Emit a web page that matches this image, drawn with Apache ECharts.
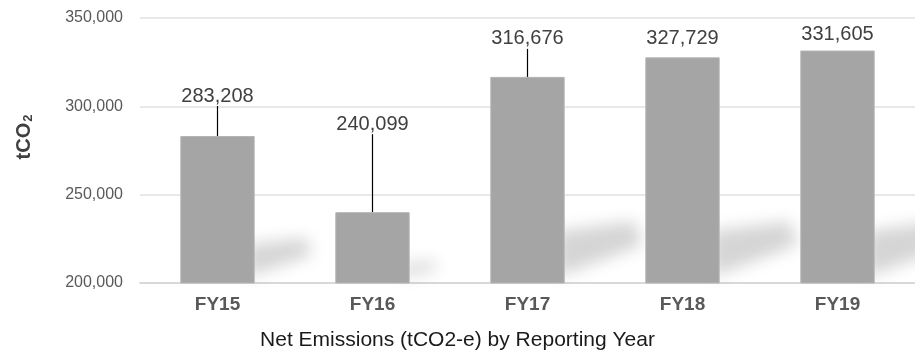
<!DOCTYPE html>
<html>
<head>
<meta charset="utf-8">
<script src="https://cdn.jsdelivr.net/npm/echarts@6/dist/echarts.min.js"></script>
<style>
  html, body { margin: 0; padding: 0; background: #fff; }
  #chart { width: 915px; height: 356px; }
</style>
</head>
<body>
<div id="chart"></div>
<script>
// data
const years = ['FY15', 'FY16', 'FY17', 'FY18', 'FY19'];
const netEmissions = [283208, 240099, 316676, 327729, 331605];
const yTicks = [200000, 250000, 300000, 350000];

// how far each value label is lifted above its bar (px), and which get a leader line
const labelDy = [-25, -73, -23, -4, -1];
const showLeader = [true, true, true, false, false];

const FONT = '"Liberation Sans", Arial, Helvetica, sans-serif';
const BASE = yTicks[0];
const OFF = 3000; // shape drawn off-screen, only its blurred shadow lands on the chart

const chart = echarts.init(document.getElementById('chart'));

const barData = netEmissions.map(function (v, i) {
  return {
    value: v,
    labelLine: { show: showLeader[i] }
  };
});

const option = {
  animation: false,
  textStyle: { fontFamily: FONT },
  title: {
    text: 'Net Emissions (tCO2-e) by Reporting Year',
    left: 'center',
    top: 325,
    textStyle: { color: '#1a1a1a', fontSize: 21, fontWeight: 'normal', fontFamily: FONT }
  },
  graphic: [
    {
      type: 'text',
      x: 24,
      y: 137,
      rotation: Math.PI / 2,
      style: {
        text: '{a|tCO}{b|2}',
        align: 'center',
        verticalAlign: 'middle',
        rich: {
          a: { fontSize: 20, fontWeight: 'bold', fill: '#404040', fontFamily: FONT },
          b: { fontSize: 13, fontWeight: 'bold', fill: '#404040', fontFamily: FONT, padding: [9, 0, 0, 1] }
        }
      }
    }
  ],
  grid: { left: 140, right: 0, top: 18, bottom: 73 },
  xAxis: {
    type: 'category',
    data: years,
    axisTick: { show: false },
    axisLine: { lineStyle: { color: '#d9d9d9', width: 2 } },
    axisLabel: {
      color: '#595959', fontSize: 19, fontWeight: 'bold', margin: 12, fontFamily: FONT
    }
  },
  yAxis: {
    type: 'value',
    min: yTicks[0],
    max: yTicks[yTicks.length - 1],
    interval: 50000,
    axisLine: { show: false },
    axisTick: { show: false },
    splitLine: { lineStyle: { color: '#e8e8e8', width: 2 } },
    axisLabel: {
      color: '#595959', fontSize: 16, margin: 17, fontFamily: FONT,
      formatter: function (v) { return v.toLocaleString('en-US'); }
    }
  },
  series: [
    {
      // soft cast shadow to the right of each bar
      type: 'custom',
      z: 1,
      silent: true,
      data: netEmissions,
      renderItem: function (params, api) {
        const base = api.coord([api.value(0), BASE]);
        const top = api.coord([api.value(0), api.value(1)]);
        const w = api.size([1, 0])[0] * 0.48;
        const xr = base[0] + w / 2;
        const y = base[1];
        const k = Math.min(y - top[1], 200) / 200;
        return {
          type: 'polygon',
          x: -OFF,
          shape: {
            points: [
              [xr - 8, y - 6],
              [xr - 8, y - 52 * k],
              [xr + 70 * k, y - 62 * k],
              [xr + 78 * k, y - 38 * k]
            ]
          },
          style: {
            fill: '#000',
            shadowBlur: 16,
            shadowOffsetX: OFF,
            shadowColor: 'rgba(0,0,0,0.17)'
          }
        };
      },
      encode: { x: 0, y: 1 }
    },
    {
      type: 'bar',
      z: 2,
      data: barData,
      barWidth: '48%',
      itemStyle: { color: '#a5a5a5', borderColor: '#b5b5b5', borderWidth: 1 },
      label: {
        show: true,
        position: 'top',
        distance: 5,
        color: '#404040',
        fontSize: 20,
        fontFamily: FONT,
        formatter: function (p) { return p.value.toLocaleString('en-US'); }
      },
      labelLayout: function (p) {
        return { dy: labelDy[p.dataIndex] };
      },
      labelLine: {
        show: true,
        lineStyle: { color: '#000', width: 1.2 }
      }
    }
  ]
};

chart.setOption(option);
</script>
</body>
</html>
